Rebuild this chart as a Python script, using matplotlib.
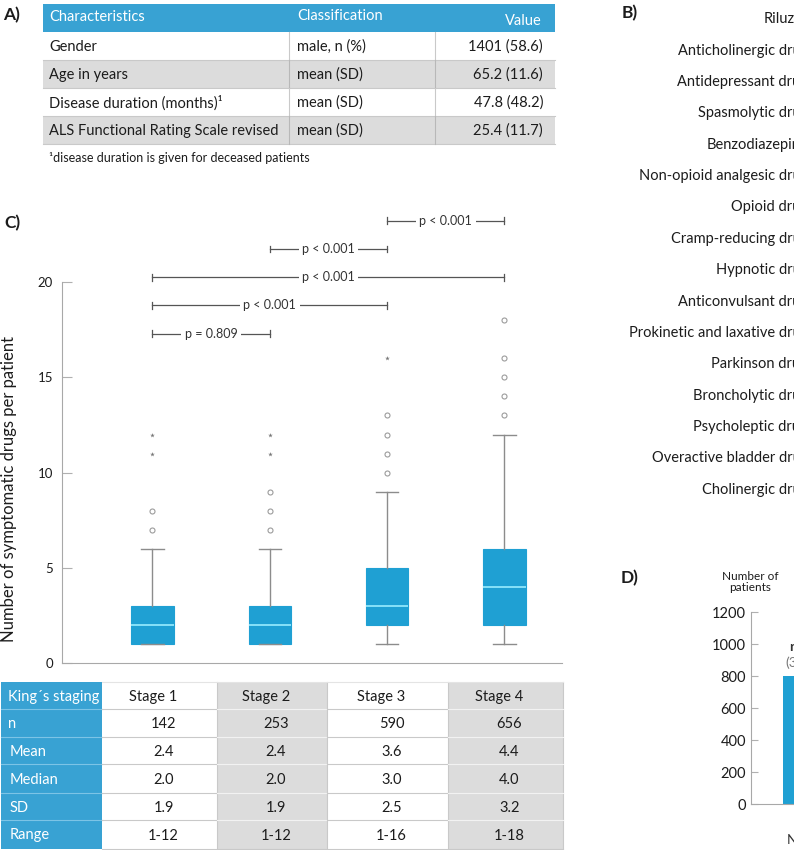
import matplotlib
matplotlib.use('Agg')
import matplotlib.pyplot as plt
from matplotlib.patches import Rectangle
from matplotlib.transforms import blended_transform_factory

plt.rcParams['font.family'] = ['Lato', 'DejaVu Sans']

# colours
BLUE = '#38a2d3'
BOX_BLUE = '#1fa0d3'
MED_COL = '#8fe6fb'
ROW_GRAY = '#dcdcdc'
LINE_GRAY = '#c9c9c9'
TXT = '#1c1c1c'

# A) patient characteristics
char_header = ['Characteristics', 'Classification', 'Value']
char_names = ['Gender', 'Age in years', 'Disease duration (months)\u00b9',
              'ALS Functional Rating Scale revised']
char_class = ['male, n (%)', 'mean (SD)', 'mean (SD)', 'mean (SD)']
char_values = ['1401 (58.6)', '65.2 (11.6)', '47.8 (48.2)', '25.4 (11.7)']
char_note = '\u00b9disease duration is given for deceased patients'

# B) drug classes (chart itself is cut off at the right edge)
drug_classes = ['Riluzole', 'Anticholinergic drugs', 'Antidepressant drugs',
                'Spasmolytic drugs', 'Benzodiazepines', 'Non-opioid analgesic drugs',
                'Opioid drugs', 'Cramp-reducing drugs', 'Hypnotic drugs',
                'Anticonvulsant drugs', 'Prokinetic and laxative drugs',
                'Parkinson drugs', 'Broncholytic drugs', 'Psycholeptic drugs',
                'Overactive bladder drugs', 'Cholinergic drugs']

# C) symptomatic drugs per King's stage
stages = ['Stage 1', 'Stage 2', 'Stage 3', 'Stage 4']
q1 = [1, 1, 2, 2]
medians_box = [2, 2, 3, 4]
q3 = [3, 3, 5, 6]
whisk_lo = [1, 1, 1, 1]
whisk_hi = [6, 6, 9, 12]
out_circles = [[7, 8], [7, 8, 9], [10, 11, 12, 13], [13, 14, 15, 16, 18]]
out_stars = [[11, 12], [11, 12], [16], []]
comparisons = [(1, 2, 'p = 0.809'), (1, 3, 'p < 0.001'), (1, 4, 'p < 0.001'),
               (2, 3, 'p < 0.001'), (3, 4, 'p < 0.001')]

row_labels = ['King\u00b4s staging', 'n', 'Mean', 'Median', 'SD', 'Range']
n_patients = ['142', '253', '590', '656']
mean_vals = ['2.4', '2.4', '3.6', '4.4']
median_vals = ['2.0', '2.0', '3.0', '4.0']
sd_vals = ['1.9', '1.9', '2.5', '3.2']
range_vals = ['1-12', '1-12', '1-16', '1-18']

# D) patients (cut off)
d_labels = ['No riluzole']
d_counts = [798]
d_bar_text = ['riluzole']
d_bar_pct = ['(33.4%)']

fig = plt.figure(figsize=(7.94, 8.5), dpi=100)

# overlay in pixel coords for tables and panel letters
ov = fig.add_axes([0, 0, 1, 1])
ov.set_xlim(0, 794)
ov.set_ylim(850, 0)
ov.axis('off')

for lab, x, y in [('A)', 12, 15), ('B)', 630, 13), ('C)', 12, 223), ('D)', 630, 578)]:
    ov.text(x, y, lab, fontsize=12.5, fontweight='bold', ha='center', va='center', color=TXT)

# ---- table A
a_cols = [43, 289, 435, 555]
a_top, a_h = 4, 28
ov.add_patch(Rectangle((a_cols[0], a_top), a_cols[-1] - a_cols[0], a_h, color=BLUE, lw=0))
ov.text(49, a_top + 13, char_header[0], color='white', fontsize=10.5, va='center')
ov.text(297, a_top + 12, char_header[1], color='white', fontsize=10.5, va='center')
ov.text(542, a_top + 17, char_header[2], color='white', fontsize=10.5, va='center', ha='right')
for i in range(len(char_names)):
    y0 = a_top + a_h * (i + 1)
    fc = ROW_GRAY if i % 2 == 1 else 'white'
    ov.add_patch(Rectangle((a_cols[0], y0), a_cols[-1] - a_cols[0], a_h, color=fc, lw=0))
    ov.plot([a_cols[0], a_cols[-1]], [y0 + a_h, y0 + a_h], color=LINE_GRAY, lw=0.8)
    for xc in a_cols[1:3]:
        ov.plot([xc, xc], [y0, y0 + a_h], color=LINE_GRAY if i % 2 == 0 else '#b8b8b8', lw=0.8)
    ym = y0 + a_h / 2 + 1
    ov.text(49, ym, char_names[i], fontsize=10.5, va='center', color=TXT)
    ov.text(297, ym, char_class[i], fontsize=10.5, va='center', color=TXT)
    ov.text(543, ym, char_values[i], fontsize=10.5, va='center', ha='right', color=TXT)
ov.text(49, 158, char_note, fontsize=9, va='center', color=TXT)

# ---- table C
c_cols = [1, 102, 217, 327, 448, 563]
c_rows = [682, 709, 737, 764, 793, 820, 849]
ov.add_patch(Rectangle((c_cols[0], c_rows[0]), c_cols[1] - c_cols[0], c_rows[-1] - c_rows[0],
                       color=BLUE, lw=0))
for k in range(4):
    fc = ROW_GRAY if k % 2 == 1 else 'white'
    ov.add_patch(Rectangle((c_cols[k + 1], c_rows[0]), c_cols[k + 2] - c_cols[k + 1],
                           c_rows[-1] - c_rows[0], color=fc, lw=0))
    ov.plot([c_cols[k + 2], c_cols[k + 2]], [c_rows[0], c_rows[-1]], color=LINE_GRAY, lw=0.8)
for r in c_rows[1:-1]:
    ov.plot([c_cols[0], c_cols[1]], [r, r], color='#7cc4e6', lw=0.8)
    for k in range(4):
        lc = '#f2f2f2' if k % 2 == 1 else LINE_GRAY
        ov.plot([c_cols[k + 1], c_cols[k + 2]], [r, r], color=lc, lw=0.8)
ov.plot([c_cols[1], c_cols[-1]], [c_rows[0], c_rows[0]], color='#e4e4e4', lw=0.8)
ov.plot([c_cols[1], c_cols[-1]], [c_rows[-1], c_rows[-1]], color=LINE_GRAY, lw=0.8)

table_rows = [stages, n_patients, mean_vals, median_vals, sd_vals, range_vals]
for r in range(len(row_labels)):
    ym = (c_rows[r] + c_rows[r + 1]) / 2 + 1
    ov.text(8 if r < 2 else 10, ym, row_labels[r], color='white', fontsize=10.5, va='center')
    for k in range(4):
        xc = (c_cols[k + 1] + c_cols[k + 2]) / 2
        xc = xc - 6 if r == 0 else xc + 4
        ov.text(xc, ym, table_rows[r][k], color=TXT, fontsize=10.5, va='center', ha='center')

# ---- panel C boxplot
axC = fig.add_axes([62 / 794, 1 - 663 / 850, 500 / 794, 457 / 850])
positions = list(range(1, len(stages) + 1))
stats = []
for k in range(len(stages)):
    stats.append(dict(med=medians_box[k], q1=q1[k], q3=q3[k], whislo=whisk_lo[k],
                      whishi=whisk_hi[k], fliers=out_circles[k], label=stages[k]))
axC.bxp(stats, positions=positions, widths=0.36, capwidths=0.19, patch_artist=True,
        boxprops=dict(facecolor=BOX_BLUE, edgecolor=BOX_BLUE, lw=0.8),
        medianprops=dict(color=MED_COL, lw=1.3),
        whiskerprops=dict(color='#8c8c8c', lw=1),
        capprops=dict(color='#8c8c8c', lw=1),
        flierprops=dict(marker='o', markerfacecolor='none', markeredgecolor='#9c9c9c',
                        markersize=3.6, markeredgewidth=0.8))
for k in range(len(stages)):
    if out_stars[k]:
        axC.scatter([positions[k]] * len(out_stars[k]), out_stars[k], marker='*',
                    s=12, color='#777777', lw=0, zorder=3)

for i, (a, b, lab) in enumerate(comparisons):
    lvl = 17.3 + 1.48 * i
    axC.plot([a, b], [lvl, lvl], color='#555555', lw=0.9)
    for xe in (a, b):
        axC.plot([xe, xe], [lvl - 0.18, lvl + 0.18], color='#555555', lw=0.9)
    axC.text((a + b) / 2, lvl, lab, ha='center', va='center', fontsize=9, color='#333333',
             bbox=dict(facecolor='white', edgecolor='none', pad=2.5))

axC.set_xlim(0.23, 4.49)
axC.set_ylim(0, 24)
axC.set_xticks([])
axC.set_yticks([0, 5, 10, 15, 20])
axC.tick_params(axis='y', direction='in', length=7, color='#b0b0b0', labelsize=9.5,
                pad=6.5, labelcolor=TXT)
for s in ('top', 'right'):
    axC.spines[s].set_visible(False)
axC.spines['left'].set_bounds(0, 20)
axC.spines['left'].set_color('#a8a8a8')
axC.spines['bottom'].set_color('#a8a8a8')
axC.patch.set_alpha(0)
fig.text(9 / 794, 1 - 489 / 850, 'Number of symptomatic drugs per patient', rotation=90,
         ha='center', va='center', fontsize=12, color=TXT)

# ---- panel B (labels only, bars lie outside the frame)
axB = fig.add_axes([818 / 794, 1 - 504 / 850, 0.3, (504 - 2) / 850])
axB.set_ylim(len(drug_classes) - 0.5, -0.5)
axB.set_yticks(range(len(drug_classes)))
axB.set_yticklabels(drug_classes)
axB.tick_params(axis='y', length=0, pad=2.5, labelsize=10.5, labelcolor=TXT)
axB.set_xticks([])
for s in axB.spines.values():
    s.set_visible(False)
axB.patch.set_alpha(0)

# ---- panel D
axD = fig.add_axes([751 / 794, 1 - 804 / 850, 250 / 794, 192 / 850])
axD.bar(range(len(d_counts)), d_counts, width=0.6, color=BOX_BLUE)
axD.set_xlim(-0.62, 1.88)
axD.set_ylim(0, 1200)
axD.set_yticks(range(0, 1201, 200))
axD.set_xticks([])
axD.tick_params(axis='y', direction='in', length=5, color='#b0b0b0', labelsize=10.5,
                pad=3.5, labelcolor=TXT)
for s in ('top', 'right'):
    axD.spines[s].set_visible(False)
axD.spines['left'].set_color('#a8a8a8')
axD.spines['bottom'].set_color('#a8a8a8')
axD.patch.set_alpha(0)
trD = blended_transform_factory(axD.transData, axD.transAxes)
for k in range(len(d_counts)):
    axD.text(k - 0.243, d_counts[k] + 183, d_bar_text[k], fontsize=10, fontweight='bold',
             color='#333333', va='center', ha='left')
    axD.text(k - 0.28, d_counts[k] + 83, d_bar_pct[k], fontsize=10,
             color='#777777', va='center', ha='left')
    axD.text(k - 0.26, -0.19, d_labels[k], transform=trD, fontsize=9.5, color='#333333',
             va='center', ha='left')
fig.text(750 / 794, 1 - 582 / 850, 'Number of\npatients', ha='center', va='center',
         fontsize=8.5, color=TXT, linespacing=1.05)

fig.savefig('out.png', dpi=100)
